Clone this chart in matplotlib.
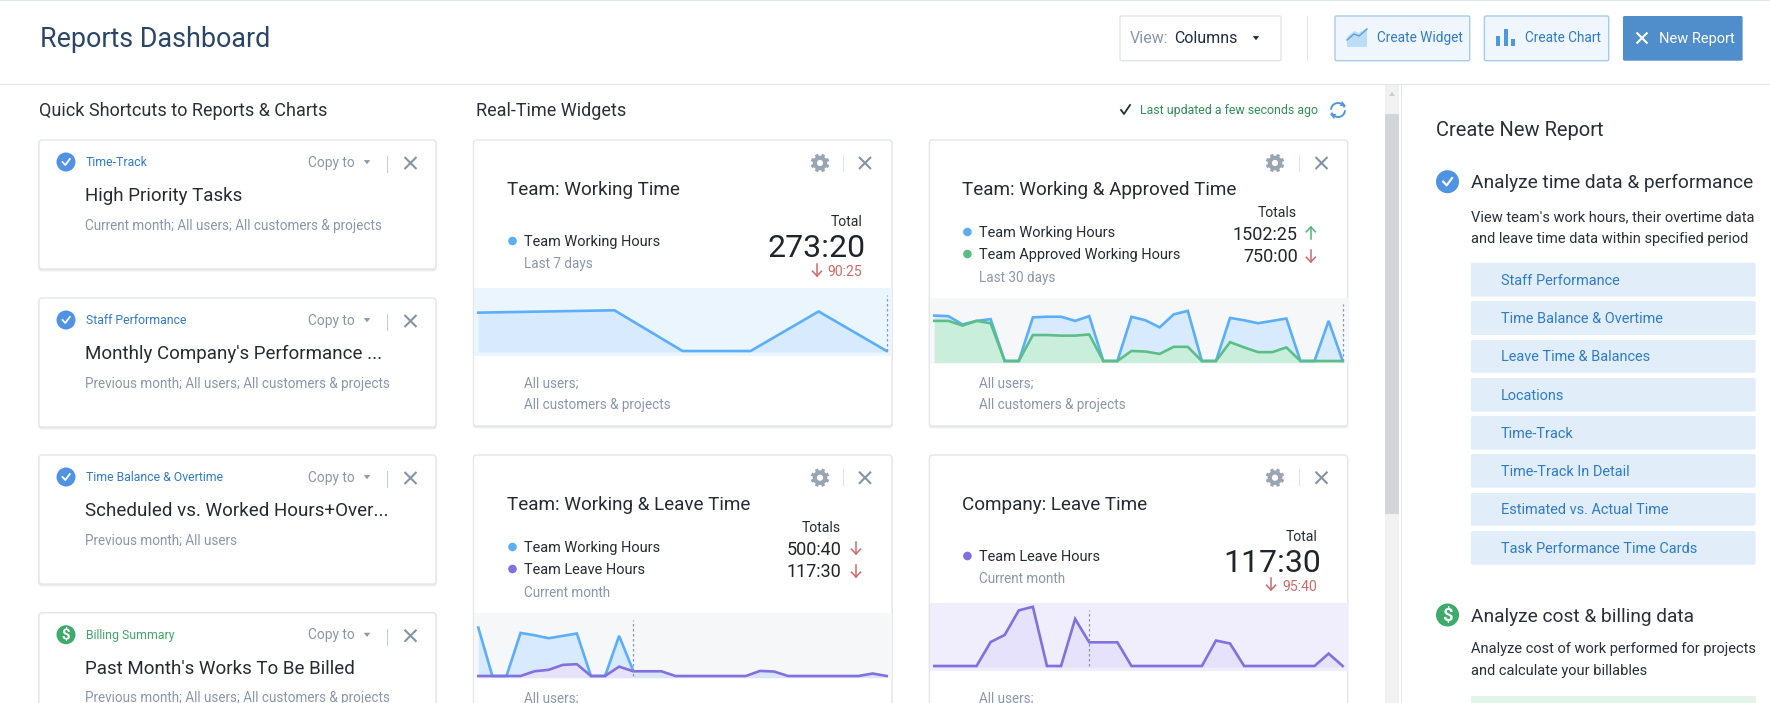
import numpy as np
import matplotlib
matplotlib.use("Agg")
import matplotlib.pyplot as plt
from matplotlib.patches import Rectangle, FancyBboxPatch, Circle, Polygon

W, H = 1770, 703
plt.rcParams['font.family'] = ['Roboto', 'DejaVu Sans']

# ---------- data ----------
nan = float('nan')
w1_working = [65, 67, 69, 0, 0, 67, 0]
w2_working = [77, 76, 62, 68, 71, 0, 0, 74, 75, 75, 68, 76, 0, 0, 75, 69, 57, 79, 85, 0, 0, 73, 69, 64, 68, 72, 0, 0, 68, 0]
w2_approved = [68, 68, 60, 68, 64, 0, 0, 44, 44, 43, 43, 45, 0, 0, 17, 16, 12, 24, 24, 0, 0, 32, 23, 15, 15, 23, 0, 0, 0, 0]
w3_working = [82, 0, 0, 73, 69, 64, 68, 72, 0, 0, 68, 9, nan, nan, nan, nan, nan, nan, nan, nan, nan, nan, nan, nan, nan, nan, nan, nan, nan, nan]
leave_hours = [0, 0, 0, 0, 8.1, 10.5, 18.8, 20, 0, 0, 15.9, 8, 8, 8, 0, 0, 0, 0, 0, 0, 8.6, 7.6, 0, 0, 0, 0, 0, 0, 4.2, 0]

shortcut_labels = ["Time-Track", "Staff Performance", "Time Balance & Overtime", "Billing Summary"]
shortcut_titles = ["High Priority Tasks", "Monthly Company's Performance ...", "Scheduled vs. Worked Hours+Over...", "Past Month's Works To Be Billed"]
shortcut_subs = ["Current month; All users; All customers & projects", "Previous month; All users; All customers & projects",
                 "Previous month; All users", "Previous month; All users; All customers & projects"]
report_links = ["Staff Performance", "Time Balance & Overtime", "Leave Time & Balances", "Locations", "Time-Track",
                "Time-Track In Detail", "Estimated vs. Actual Time", "Task Performance Time Cards"]

BLUE, GREEN, PURPLE = '#5aaefb', '#5bbf85', '#8270e0'
BLUEF, GREENF, PURPF = '#d8ebfe', '#c9efdc', '#e6e2fb'
GREY, DARK, LINK, RED = '#8a97aa', '#262b33', '#2f7bc8', '#d0696b'

fig = plt.figure(figsize=(W / 100, H / 100), dpi=100, facecolor='white')
bg = fig.add_axes([0, 0, 1, 1], zorder=0)
bg.set_xlim(0, W); bg.set_ylim(H, 0); bg.axis('off')


def t(x, y, s, px=14, color=DARK, ha='left', weight='normal', z=6):
    shift = 0.7 if color == GREY and px == 13.5 else -0.4
    bg.text(x, y + 0.36 * px + shift, s, fontsize=px * 0.72, color=color, ha=ha, va='baseline', fontweight=weight, zorder=z)


def rect(x0, y0, x1, y1, fc, ec='none', lw=0, z=2):
    bg.add_patch(Rectangle((x0, y0), x1 - x0, y1 - y0, fc=fc, ec=ec, lw=lw, zorder=z))


def card(x0, y0, x1, y1):
    for off, col in ((2.5, '#f3f3f3'), (1.5, '#e8e8e8')):
        bg.add_patch(FancyBboxPatch((x0 - 0.5, y0 + off - 1), x1 - x0 + 1, y1 - y0 + 1, boxstyle='round,pad=0,rounding_size=3',
                                    fc=col, ec='none', zorder=1))
    bg.add_patch(FancyBboxPatch((x0, y0), x1 - x0, y1 - y0, boxstyle='round,pad=0,rounding_size=3',
                                fc='white', ec='#e4e6e8', lw=1, zorder=2))


def cross(x, y, r=5.5, color='#8593a6', lw=1.5, z=6):
    bg.plot([x - r, x + r], [y - r, y + r], color=color, lw=lw, zorder=z, solid_capstyle='butt')
    bg.plot([x - r, x + r], [y + r, y - r], color=color, lw=lw, zorder=z, solid_capstyle='butt')


def gear(x, y):
    color = '#9aa5b4'
    bg.add_patch(Circle((x, y), 5.2, fc='white', ec=color, lw=3.0, zorder=6))
    for a in np.arange(0, 360, 45) + 22.5:
        c, s = np.cos(np.radians(a)), np.sin(np.radians(a))
        bg.plot([x + 6 * c, x + 9.3 * c], [y + 6 * s, y + 9.3 * s], color=color, lw=2.4, zorder=6, solid_capstyle='butt')


def badge(x, y, r, color, dollar=False):
    bg.add_patch(Circle((x, y), r, fc=color, ec='none', zorder=6))
    if dollar:
        bg.text(x, y + r * 0.5, '$', color='white', fontsize=r * 1.15, ha='center', va='baseline', fontweight='bold', zorder=7)
    else:
        s = r / 9.5
        bg.plot([x - 3.5 * s, x - 0.7 * s, x + 3.8 * s], [y, y + 3 * s, y - 3 * s], color='white', lw=1.3 * s, zorder=7)


def arrow(x, y, color, up=False, size=7):
    d = -1 if up else 1
    bg.plot([x, x], [y - d * size, y + d * size], color=color, lw=1.1, zorder=6)
    bg.plot([x - size * .75, x, x + size * .75], [y + d * size * .2, y + d * size, y + d * size * .2], color=color, lw=1.1, zorder=6)


def caret(x, y, color, r=3.2):
    bg.add_patch(Polygon([(x - r, y - r * .6), (x + r, y - r * .6), (x, y + r * .7)], fc=color, ec='none', zorder=6))


def spark(panel, px0, px1, zero, bottom, scale, color, series, mark, mark_top, mark_bot, tail_fill=None):
    x0, y0, x1, y1 = panel
    ax = fig.add_axes([x0 / W, 1 - y1 / H, (x1 - x0) / W, (y1 - y0) / H], zorder=3)
    n = len(series[0][0])
    dx = (px1 - px0) / (n - 1)
    ax.set_xlim((x0 - px0) / dx, (x1 - px0) / dx)
    ax.set_ylim((zero - y1) / scale, (zero - y0) / scale)
    ax.set_facecolor(color)
    ax.set_xticks([]); ax.set_yticks([])
    for sp in ax.spines.values():
        sp.set_visible(False)
    idx = np.arange(n)
    base = (zero - bottom) / scale
    for vals, line, fill in series:
        v = np.array(vals, dtype=float)
        ok = ~np.isnan(v)
        ax.fill_between(idx[ok], v[ok], base, color=fill, lw=0, zorder=2)
        if tail_fill is not None and ok.all():
            tail = idx >= mark
            ax.fill_between(idx[tail], v[tail], base, color=tail_fill, lw=0, zorder=2.5)
    for vals, line, fill in series:
        ax.plot(idx, np.array(vals, dtype=float), color=line, lw=1.9, zorder=3, solid_joinstyle='miter')
    ax.plot([mark, mark], [(zero - mark_bot) / scale, (zero - mark_top) / scale], color='#8d96a3', lw=0.9, ls=(0, (2, 2)), zorder=4)


# ---------- header ----------
rect(0, 0, W, 1.2, '#e3e6e9')
rect(0, 84, W, 85, '#e3e5e8')
t(39.5, 38, "Reports Dashboard", 26.9, '#2b4566')
bg.add_patch(FancyBboxPatch((1120, 16), 161, 44.7, boxstyle='round,pad=0,rounding_size=1.5', fc='white', ec='#e3e5e8', lw=1, zorder=2))
t(1130, 37.5, "View:", 16, GREY)
t(1174, 37.5, "Columns", 16, '#1f2d40')
caret(1256, 38, '#222b36')
rect(1307, 16, 1308, 61, '#e3e5e8')
for x0, x1, txt, tx in ((1335, 1469.7, "Create Widget", 1376.6), (1484.4, 1608.7, "Create Chart", 1524.7)):
    bg.add_patch(FancyBboxPatch((x0, 16), x1 - x0, 44.7, boxstyle='round,pad=0,rounding_size=1.5', fc='#eff6fe', ec='#a6cbf0', lw=1, zorder=2))
    t(tx, 38, txt, 13.6, LINK)
bg.add_patch(Polygon([(1347, 47), (1347, 37), (1354, 31), (1359, 33), (1367, 28), (1367, 47)], fc='#bcdcf8', ec='none', zorder=6))
bg.plot([1347, 1354, 1359, 1367], [40, 34, 36, 29], color='#5aa0e0', lw=1, zorder=7)
for x, top in ((1498, 36), (1505.5, 29), (1513, 39)):
    rect(x - 2, top, x + 2, 46, '#4f97df', z=6)
bg.add_patch(FancyBboxPatch((1623, 16), 119.6, 44.7, boxstyle='round,pad=0,rounding_size=1.5', fc='#4f8dcb', ec='none', zorder=2))
cross(1642, 38, 5.5, 'white', 1.5)
t(1658.7, 38, "New Report", 14.6, 'white')

# ---------- section headings ----------
t(39, 110, "Quick Shortcuts to Reports & Charts", 18, '#2a3038')
t(475.6, 110, "Real-Time Widgets", 18, '#2a3038')
bg.plot([1121, 1124, 1130], [110, 114, 105], color='#1c3328', lw=1.3, zorder=6)
t(1140.5, 110, "Last updated a few seconds ago", 12.4, '#2e8f57')
th = np.radians(np.linspace(190, 330, 20))
bg.plot(1338 + 7 * np.cos(th), 110 + 7 * np.sin(th), color='#4f97df', lw=1.4, zorder=6)
bg.plot(1338 - 7 * np.cos(th), 110 - 7 * np.sin(th), color='#4f97df', lw=1.4, zorder=6)
bg.add_patch(Polygon([(1342, 101), (1346, 106), (1340, 106)], fc='#4f97df', ec='none', zorder=6))
bg.add_patch(Polygon([(1334, 119), (1330, 114), (1336, 114)], fc='#4f97df', ec='none', zorder=6))

# ---------- shortcut cards ----------
tops = [140, 298, 455, 612.7]
label_colors = [LINK, LINK, LINK, '#3da766']
for i, top in enumerate(tops):
    card(39, top, 436, min(top + 129, 760))
    dollar = i == 3
    badge(66, top + 22, 9.5, '#3dab6a' if dollar else '#5093e2', dollar)
    t(86, top + 22, shortcut_labels[i], 12.3, label_colors[i])
    t(307.6, top + 22, "Copy to", 13.7, GREY)
    caret(367, top + 22, GREY, 3.2)
    rect(386.5, top + 16, 387.5, top + 33, '#c6ccd4', z=6)
    cross(410.5, top + 23, 6)
    t(85, top + 54.5, shortcut_titles[i], 18.8, '#262b33')
    t(85, top + 84, shortcut_subs[i], 13.5, GREY)

# ---------- widgets ----------
WX = [(473.5, 892), (929.4, 1347.6)]
card(*[WX[0][0], 140, WX[0][1], 426]); card(*[WX[1][0], 140, WX[1][1], 426])
card(*[WX[0][0], 455, WX[0][1], 780]); card(*[WX[1][0], 455, WX[1][1], 780])
for (gx, sx, xx) in ((820, 843, 865), (1275, 1299.4, 1321.5)):
    for y in (163, 477.7):
        gear(gx, y); rect(sx - .5, y - 8.5, sx + .5, y + 8.5, '#dfe2e6', z=6); cross(xx, y, 6)

# widget 1
t(507, 188.5, "Team: Working Time", 18.9)
t(862.6, 221, "Total", 14, ha='right')
t(866, 246, "273:20", 32, '#20252c', ha='right')
arrow(817, 270, RED, False, 6)
t(862.6, 271, "90:25", 14, RED, ha='right')
bg.add_patch(Circle((512.5, 241), 4.3, fc=BLUE, ec='none', zorder=6))
t(524, 241, "Team Working Hours", 14.5)
t(524, 262, "Last 7 days", 13.5, GREY)
t(524, 382, "All users;", 13.5, GREY)
t(524, 403, "All customers & projects", 13.5, GREY)
spark((474, 288, 892, 356), 478.3, 886.7, 351, 352, 0.59, '#eaf5fe', [(w1_working, BLUE, BLUEF)], 6, 295, 350.7)

# widget 2
t(962.3, 188.5, "Team: Working & Approved Time", 18.9)
t(1296.6, 212, "Totals", 14, ha='right')
t(1297.7, 233.5, "1502:25", 18, '#20252c', ha='right')
t(1297.7, 256.2, "750:00", 18, '#20252c', ha='right')
arrow(1310.8, 233, '#4cb67c', True, 6); arrow(1310.8, 256, RED, False, 6)
bg.add_patch(Circle((967.4, 232), 4.3, fc=BLUE, ec='none', zorder=6))
bg.add_patch(Circle((967.4, 254), 4.3, fc=GREEN, ec='none', zorder=6))
t(979.3, 232, "Team Working Hours", 14.5)
t(979.3, 254, "Team Approved Working Hours", 14.5)
t(979.3, 276, "Last 30 days", 13.5, GREY)
t(979.3, 382, "All users;", 13.5, GREY)
t(979.3, 403, "All customers & projects", 13.5, GREY)
spark((929.7, 298.3, 1347.6, 364), 934.3, 1342.7, 361, 362.3, 0.59, '#f5f7f9',
      [(w2_working, BLUE, BLUEF), (w2_approved, GREEN, GREENF)], 29, 304, 361)

# widget 3
t(507, 503.5, "Team: Working & Leave Time", 18.9)
t(841, 527, "Totals", 14, ha='right')
t(841.6, 548.5, "500:40", 18, '#20252c', ha='right')
t(841.6, 571.2, "117:30", 18, '#20252c', ha='right')
arrow(856, 548, RED, False, 6); arrow(856, 571, RED, False, 6)
bg.add_patch(Circle((512.5, 547), 4.3, fc=BLUE, ec='none', zorder=6))
bg.add_patch(Circle((512.5, 569), 4.3, fc=PURPLE, ec='none', zorder=6))
t(524, 547, "Team Working Hours", 14.5)
t(524, 569, "Team Leave Hours", 14.5)
t(524, 591, "Current month", 13.5, GREY)
t(524, 697, "All users;", 13.5, GREY)
spark((474, 613, 892, 679), 478.3, 886.7, 676, 677.3, 0.59, '#f5f7f9',
      [(w3_working, BLUE, BLUEF), (leave_hours, PURPLE, PURPF)], 11, 620, 676, tail_fill='#d9e5fb')

# widget 4
t(962.3, 503.5, "Company: Leave Time", 18.9)
t(1317.6, 536, "Total", 14, ha='right')
t(1321, 561, "117:30", 32, '#20252c', ha='right')
arrow(1271, 584, RED, False, 6)
t(1317.6, 586, "95:40", 14, RED, ha='right')
bg.add_patch(Circle((967.4, 556), 4.3, fc=PURPLE, ec='none', zorder=6))
t(979.3, 556, "Team Leave Hours", 14.5)
t(979.3, 577, "Current month", 13.5, GREY)
t(979.3, 697, "All users;", 13.5, GREY)
spark((929.7, 603, 1347.6, 670.7), 934.3, 1342.7, 666, 667.3, 2.96, '#f0eefc', [(leave_hours, PURPLE, PURPF)], 11, 610, 666)

# ---------- scrollbar ----------
rect(1384.5, 85, 1399, H, '#f1f1f1')
rect(1384.5, 114, 1399, 514, '#d3d6d9', z=3)
bg.add_patch(Polygon([(1389, 96), (1395, 96), (1392, 92)], fc='#c9cdd1', ec='none', zorder=6))
rect(1401, 85, 1402, H, '#e6e8ea')

# ---------- right panel ----------
t(1435.6, 129, "Create New Report", 20.2, '#2a3038')
badge(1447.5, 181.7, 11.5, '#5093e2')
t(1470.8, 181.5, "Analyze time data & performance", 19.1, '#2a3038')
t(1470.8, 216, "View team's work hours, their overtime data", 14.6, '#2a3038')
t(1470.8, 238, "and leave time data within specified period", 14.6, '#2a3038')
link_y = [(262.7, 296.7), (301, 335), (340, 372.7), (378, 411.7), (416, 449.7), (454, 487.7), (493, 525.7), (531, 564.7)]
for (a, b), s in zip(link_y, report_links):
    bg.add_patch(FancyBboxPatch((1470.8, a), 284.9, b - a, boxstyle='round,pad=0,rounding_size=2', fc='#e1eefa', ec='none', zorder=2))
    t(1501, (a + b) / 2, s, 14.5, LINK)
badge(1447.5, 615, 11.5, '#3dab6a', True)
t(1470.8, 615.5, "Analyze cost & billing data", 19.1, '#2a3038')
t(1470.8, 647.7, "Analyze cost of work performed for projects", 14.6, '#2a3038')
t(1470.8, 669.7, "and calculate your billables", 14.6, '#2a3038')
rect(1470.8, 696, 1755.7, H, '#e3f5ea')

fig.savefig('out.png', dpi=100, facecolor='white')
